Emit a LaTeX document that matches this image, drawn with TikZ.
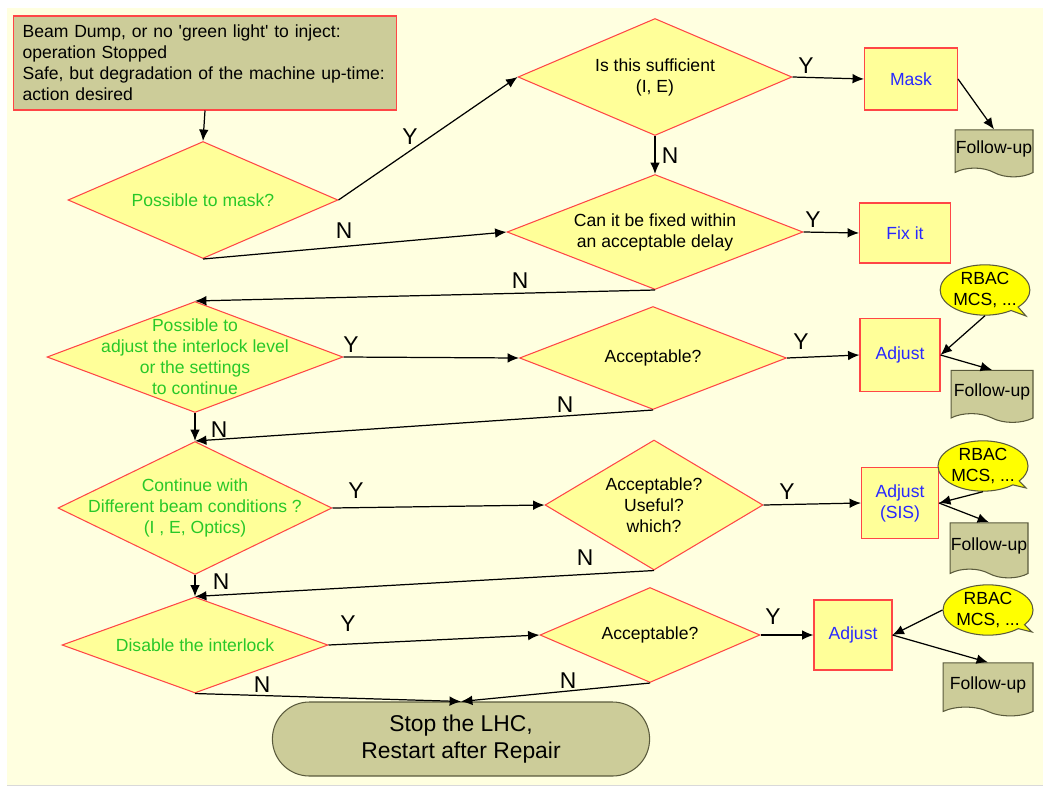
\documentclass[tikz,border=0pt]{standalone}
\usepackage{fontspec}
\setmainfont{Liberation Sans}
\usepackage{tikz}
\usetikzlibrary{arrows.meta, shapes.geometric, shapes.misc, shapes.symbols, shapes.callouts}
\definecolor{bgyellow}{RGB}{255,255,224}
\definecolor{diafill}{RGB}{255,255,153}
\definecolor{boxolive}{RGB}{204,204,153}
\definecolor{linered}{RGB}{255,70,70}
\definecolor{textgreen}{RGB}{40,200,40}
\definecolor{textblue}{RGB}{40,40,255}
\definecolor{noteyellow}{RGB}{255,255,0}
\definecolor{darkedge}{RGB}{90,90,60}
\tikzset{>={Latex[length=6.5pt,width=5.5pt]}}
\tikzset{
  startbox/.style={rectangle, draw=linered, fill=boxolive, line width=0.6pt, align=left, text width=7.3cm, inner xsep=0.19cm, inner ysep=0.1cm, minimum height=1.88cm},
  decision/.style={diamond, draw=linered, fill=diafill, line width=0.6pt, inner sep=0pt},
  action/.style={rectangle, draw=linered, fill=diafill, line width=0.6pt, text=textblue, align=center, inner sep=0pt},
  followup/.style={tape, tape bend top=none, tape bend bottom=out and in, draw=darkedge, fill=boxolive, line width=0.6pt, inner sep=0pt},
  note/.style={ellipse callout, draw=darkedge, fill=noteyellow, line width=0.6pt, align=center, inner sep=0pt, callout pointer arc=12},
  terminal/.style={rounded rectangle, draw=darkedge, fill=boxolive, line width=0.6pt, align=center, font=\fontsize{13}{15.5}\selectfont},
  flow/.style={->, line width=0.7pt},
  yn/.style={font=\fontsize{13}{15}\selectfont}
}
\begin{document}
\begin{tikzpicture}[x=0.02cm, y=-0.02cm, font=\fontsize{10}{12}\selectfont]
\useasboundingbox (0,0) rectangle (1043,787);
\fill[bgyellow] (7,8) rectangle (1043,785);
\draw[black!15] (7,785) -- (1043,785);

\node[startbox] (start) at (205,63) {Beam Dump, or no \textquotesingle green light\textquotesingle\ to inject:\\operation Stopped\\Safe, but degradation of the machine up-time:\\action desired};

\node[decision, minimum width=5.4cm, minimum height=2.34cm] (d1) at (203,200) {};
\node[text=textgreen] (d1t) at (d1) {Possible to mask?};
\node[decision, minimum width=5.48cm, minimum height=2.34cm] (d2) at (655,77) {};
\node[align=center] (d2t) at (d2) {Is this sufficient\\(I, E)};
\node[decision, minimum width=5.92cm, minimum height=2.3cm] (d3) at (655,232) {};
\node[align=center] (d3t) at (d3) {Can it be fixed within\\an acceptable delay};
\node[decision, minimum width=5.92cm, minimum height=2.22cm] (d4) at (195,357) {};
\node[align=center, text=textgreen] (d4t) at (d4) {Possible to\\adjust the interlock level\\or the settings\\to continue};
\node[decision, minimum width=5.34cm, minimum height=2.06cm] (d5) at (653,358) {};
\node (d5t) at (d5) {Acceptable?};
\node[decision, minimum width=5.48cm, minimum height=2.66cm] (d6) at (195,508) {};
\node[align=center, text=textgreen] (d6t) at (d6) {Continue with\\Different beam conditions ?\\(I , E, Optics)};
\node[decision, minimum width=4.36cm, minimum height=2.6cm] (d7) at (654,505) {};
\node[align=center] (d7t) at (d7) {Acceptable?\\Useful?\\which?};
\node[decision, minimum width=5.32cm, minimum height=1.92cm] (d8) at (195,645) {};
\node[text=textgreen] (d8t) at (d8) {Disable the interlock};
\node[decision, minimum width=4.4cm, minimum height=1.9cm] (d9) at (650,635) {};
\node (d9t) at (d9) {Acceptable?};

\node[action, minimum width=1.86cm, minimum height=1.24cm] (mask) at (911,79) {Mask};
\node[action, minimum width=1.82cm, minimum height=1.2cm] (fixit) at (905,233) {Fix it};
\node[action, minimum width=1.6cm, minimum height=1.46cm] (adj1) at (900,355) {Adjust};
\node[action, minimum width=1.54cm, minimum height=1.42cm] (adj2) at (900,503) {Adjust\\(SIS)};
\node[action, minimum width=1.56cm, minimum height=1.4cm] (adj3) at (853,635) {Adjust};

\node[followup, minimum width=1.56cm, minimum height=0.94cm] (fu1) at (994,149) {Follow-up};
\node[followup, minimum width=1.64cm, minimum height=1.04cm] (fu2) at (992,392) {Follow-up};
\node[followup, minimum width=1.56cm, minimum height=1.1cm] (fu3) at (989,546) {Follow-up};
\node[followup, minimum width=1.8cm, minimum height=1.06cm] (fu4) at (988,685) {Follow-up};

\coordinate (c1tip) at (1026,316);
\coordinate (c2tip) at (1026,488);
\coordinate (c3tip) at (1032,632);
\node[note, minimum width=1.72cm, minimum height=0.96cm, callout absolute pointer={(c1tip)}] (c1) at (985,290) {RBAC\\MCS, ...};
\node[note, minimum width=1.8cm, minimum height=0.94cm, callout absolute pointer={(c2tip)}] (c2) at (983,466) {RBAC\\MCS, ...};
\node[note, minimum width=1.8cm, minimum height=0.92cm, callout absolute pointer={(c3tip)}] (c3) at (988,610) {RBAC\\MCS, ...};

\node[terminal, minimum width=7.78cm, minimum height=1.48cm] (stop) at (461,739) {Stop the LHC,\\Restart after Repair};

\draw[flow] (start.south) -- (d1.north);
\draw[flow] (d1.east) -- (d2.west);
\draw[flow] (d2.east) -- (mask.west);
\draw[flow] (mask.east) -- (fu1.north);
\draw[flow] (d2.south) -- (d3.north);
\draw[flow] (d1.south) -- (d3.west);
\draw[flow] (d3.east) -- (fixit.west);
\draw[flow] (d3.south) -- (d4.north);
\draw[flow] (d4.east) -- (d5.west);
\draw[flow] (d5.east) -- (adj1.west);
\draw[flow] (c1.south) -- (adj1.east);
\draw[flow] (adj1.east) -- (fu2.north);
\draw[flow] (d4.south) -- (d6.north);
\draw[flow] (d5.south) -- (d6.north);
\draw[flow] (d6.east) -- (d7.west);
\draw[flow] (d7.east) -- (adj2.west);
\draw[flow] (c2.south) -- (adj2.east);
\draw[flow] (adj2.east) -- (fu3.north);
\draw[flow] (d6.south) -- (d8.north);
\draw[flow] (d7.south) -- (d8.north);
\draw[flow] (d8.east) -- (d9.west);
\draw[flow] (d9.east) -- (adj3.west);
\draw[flow] (c3.west) -- (adj3.east);
\draw[flow] (adj3.east) -- (fu4.north);
\draw[flow] (d8.south) -- (stop.north);
\draw[flow] (d9.south) -- (stop.north);

\node[yn] (y1) at (410,137) {Y};
\node[yn] (y2) at (806,66) {Y};
\node[yn] (n1) at (670,156) {N};
\node[yn] (n2) at (344,231) {N};
\node[yn] (y3) at (813,220) {Y};
\node[yn] (n3) at (520,281) {N};
\node[yn] (y4) at (351,345) {Y};
\node[yn] (y5) at (801,342) {Y};
\node[yn] (n4) at (565,405) {N};
\node[yn] (n5) at (219,430) {N};
\node[yn] (y6) at (356,491) {Y};
\node[yn] (y7) at (787,492) {Y};
\node[yn] (n6) at (585,558) {N};
\node[yn] (n7) at (221,582) {N};
\node[yn] (y8) at (348,624) {Y};
\node[yn] (y9) at (773,617) {Y};
\node[yn] (n8) at (262,685) {N};
\node[yn] (n9) at (568,681) {N};
\end{tikzpicture}
\end{document}
